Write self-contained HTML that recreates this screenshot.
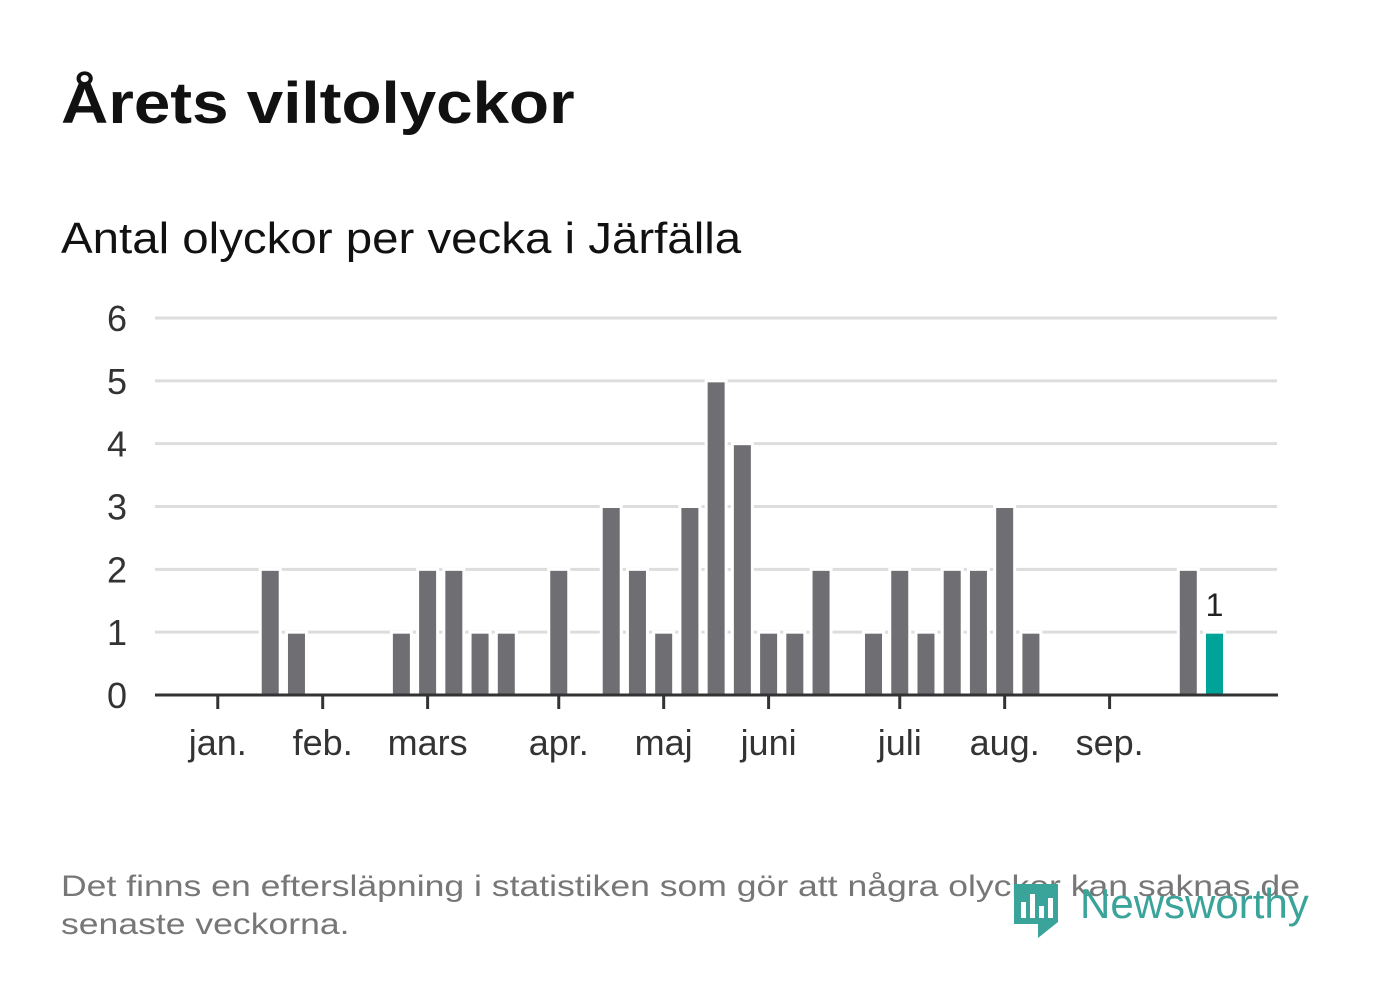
<!DOCTYPE html>
<html><head><meta charset="utf-8"><style>
body{margin:0;width:1382px;height:999px;background:#fff;font-family:"Liberation Sans",sans-serif;overflow:hidden;position:relative}
.t{position:absolute;white-space:nowrap;transform-origin:0 0}
</style></head><body>
<div class="t" style="left:61px;top:70px;font-size:58px;font-weight:bold;color:#111;transform:scaleX(1.13)">Årets viltolyckor</div>
<div class="t" style="left:61px;top:214px;font-size:44px;color:#111;transform:scaleX(1.078)">Antal olyckor per vecka i Järfälla</div>
<svg id="chart" width="1382" height="999" style="position:absolute;left:0;top:0"></svg>
<div class="t" style="left:61px;top:868px;font-size:30px;color:#777;line-height:38px;transform:scaleX(1.185)">Det finns en eftersläpning i statistiken som gör att några olyckor kan saknas de<br>senaste veckorna.</div>
<div style="position:absolute;left:1012px;top:878px;width:310px;height:62px;">
<svg width="50" height="62" style="position:absolute;left:0;top:0"><path d="M2 6h44v38l-20 16v-14H2z" fill="#3aa39a"/><rect x="9" y="24" width="5" height="16" fill="#fff"/><rect x="18" y="16" width="5" height="24" fill="#fff"/><rect x="27" y="28" width="5" height="12" fill="#fff"/><rect x="36" y="20" width="5" height="20" fill="#fff"/></svg>
<div class="t" style="left:68px;top:2px;font-size:42px;color:#3aa39a;">Newsworthy</div></div>
<script>
const weeks=[2,3,7,8,9,10,11,13,15,16,17,18,19,20,21,22,23,25,26,27,28,29,30,31,37,38];
const values=[2,1,1,2,2,1,1,2,3,2,1,3,5,4,1,1,2,1,2,1,2,2,3,1,2,1];
const yTicks=[0,1,2,3,4,5,6];
const monthLabels=["jan.","feb.","mars","apr.","maj","juni","juli","aug.","sep."];
const monthWeeks=[0,4,8,13,17,21,26,30,34];
const NS="http://www.w3.org/2000/svg";
const svg=document.getElementById('chart');
const x=w=>244+(w-1)*26.23;
const y=v=>695-v*62.83;
function el(t,a){const e=document.createElementNS(NS,t);for(const k in a)e.setAttribute(k,a[k]);svg.appendChild(e);return e;}
yTicks.forEach(v=>{
 if(v>0){const g=el('line',{x1:155,x2:1277,y1:y(v),y2:y(v),stroke:'#ddd','stroke-width':3});
 
 }
 const t=el('text',{x:127,y:y(v)+13,'font-size':36,'text-anchor':'end',fill:'#333','font-family':'Liberation Sans, sans-serif'});t.textContent=v;
 
 
});
weeks.forEach((w,i)=>{
 const last=i===weeks.length-1;
 const r=el('rect',{x:x(w)-10,y:y(values[i]),width:20,height:y(0)-y(values[i]),fill:last?'#00a398':'#6f6e73',stroke:'#fff','stroke-width':3});
 
 
 if(last){const t=el('text',{x:x(w),y:y(values[i])-16,'font-size':32,'text-anchor':'middle',fill:'#222','font-family':'Liberation Sans, sans-serif'});t.textContent=values[i];
 
 }
});
const ax=el('line',{x1:155,x2:1278,y1:695,y2:695,stroke:'#333','stroke-width':3});


monthWeeks.forEach((w,i)=>{
 const tk=el('line',{x1:x(w),x2:x(w),y1:695,y2:709,stroke:'#333','stroke-width':3});
 
 
 const t=el('text',{x:x(w),y:755,'font-size':36,'text-anchor':'middle',fill:'#333','font-family':'Liberation Sans, sans-serif'});t.textContent=monthLabels[i];
 
 
});
</script>
</body></html>
